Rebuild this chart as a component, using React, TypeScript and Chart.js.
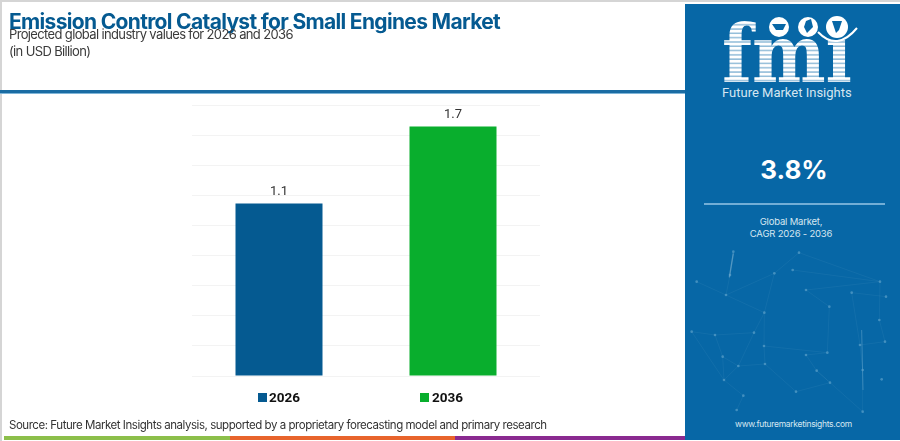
import { useEffect, useRef } from 'react';
import Chart from 'chart.js/auto';

const categories = ['2026', '2036'];
const series2026 = [1.145, null];
const series2036 = [null, 1.657];
const valueLabels = ['1.1', '1.7'];
const axisMax = 1.8;
const axisStep = 0.2;

const BLUE = '#055a91';
const GREEN = '#09ae2d';
const SIDEBAR = '#0767a6';
const FONT = 'Inter, "Noto Sans", sans-serif';

// value text above each bar
const barLabels = {
  id: 'barLabels',
  afterDatasetsDraw(chart: any) {
    const ctx = chart.ctx;
    ctx.save();
    ctx.font = '13px Roboto, sans-serif';
    ctx.fillStyle = '#333333';
    ctx.textAlign = 'center';
    ctx.textBaseline = 'bottom';
    chart.data.datasets.forEach((ds: any, i: number) => {
      chart.getDatasetMeta(i).data.forEach((bar: any, j: number) => {
        if (ds.data[j] == null) return;
        ctx.fillText(valueLabels[j], bar.x, bar.y - 5);
      });
    });
    ctx.restore();
  },
};

function text(left: number, top: number, size: number, color: string, extra: React.CSSProperties = {}): React.CSSProperties {
  return {
    position: 'absolute',
    left,
    top,
    fontSize: size,
    color,
    fontFamily: FONT,
    lineHeight: 1,
    whiteSpace: 'nowrap',
    ...extra,
  };
}

function centered(top: number, size: number, color: string, width: number, extra: React.CSSProperties = {}) {
  return text(686, top, size, color, { width, textAlign: 'center', ...extra });
}

function Logo() {
  return (
    <svg width={214} height={100} style={{ position: 'absolute', left: 686, top: 4 }}>
      <defs>
        <pattern id="stripes" width="4.3" height="4.3" patternUnits="userSpaceOnUse">
          <rect width="4.3" height="3.2" fill="#ffffff" />
          <rect y="3.2" width="4.3" height="1.1" fill="#8fbbd8" />
        </pattern>
      </defs>
      <text x="36" y="78" fontFamily="DejaVu Serif" fontWeight="bold" fontSize="80" fill="url(#stripes)" textLength="130" lengthAdjust="spacingAndGlyphs">fmı</text>
      <circle cx="93" cy="23" r="10" fill="#fff" />
      <circle cx="122" cy="23" r="10" fill="#fff" />
      <circle cx="151" cy="23" r="11" fill="#fff" />
      <path d="M86 20 h14 l-3 6 h-7 z" fill={SIDEBAR} />
      <path d="M120 17 l5 -2 l2 8 l-6 6 l-3 -6 z" fill={SIDEBAR} />
      <path d="M146 17 h10 l-3 9 l-3 3 z" fill={SIDEBAR} />
      <path d="M132 28 Q151 48 171 24" stroke="#ffffff" strokeWidth="2" fill="none" />
    </svg>
  );
}

function Network() {
  const pts = [[160, 35], [150, 105], [50, 125], [138, 165], [283, 100], [357, 38], [338, 90], [378, 150], [515, 158], [600, 125], [618, 170], [598, 240], [615, 305], [540, 315], [448, 200], [253, 218], [222, 278], [105, 285], [35, 275], [252, 318], [378, 345], [442, 338], [255, 372], [175, 378], [128, 350], [132, 420], [190, 467], [170, 510], [410, 392], [348, 455], [450, 428], [548, 390], [548, 515], [605, 418]];
  const links = [[0, 1], [1, 3], [2, 3], [3, 4], [4, 5], [5, 9], [6, 9], [4, 15], [3, 15], [15, 16], [16, 17], [17, 18], [17, 24], [24, 23], [23, 22], [22, 19], [19, 21], [19, 15], [16, 23], [20, 21], [20, 28], [28, 30], [30, 29], [29, 22], [28, 32], [32, 31], [31, 13], [13, 12], [12, 11], [11, 9], [14, 21], [7, 14], [7, 9], [8, 13], [23, 25], [25, 26], [26, 27], [25, 24], [18, 25], [8, 10]];
  return (
    <svg width={220} height={201} viewBox="0 0 660 603" style={{ position: 'absolute', left: 680, top: 240 }}>
      {links.map(([a, b], i) => (
        <line key={i} x1={pts[a][0]} y1={pts[a][1]} x2={pts[b][0]} y2={pts[b][1]} stroke="#3f8dbd" strokeWidth={1.5} opacity={0.4} />
      ))}
      {pts.map(([x, y], i) => (
        <circle key={i} cx={x} cy={y} r={4} fill="#5a9fc9" opacity={0.7} />
      ))}
      <line x1={160} y1={40} x2={148} y2={112} stroke="#6fa9cd" strokeWidth={4} opacity={0.7} />
      <line x1={545} y1={270} x2={549} y2={450} stroke="#5a9fc9" strokeWidth={3} opacity={0.6} />
    </svg>
  );
}

export default function App() {
  const chartRef = useRef<HTMLCanvasElement>(null);

  useEffect(() => {
    document.body.style.margin = '0';
    const myChart = new Chart(chartRef.current as any, {
      type: 'bar',
      data: {
        labels: categories,
        datasets: [
          { label: '2026', data: series2026, backgroundColor: BLUE },
          { label: '2036', data: series2036, backgroundColor: GREEN },
        ],
      } as any,
      options: {
        animation: false,
        responsive: false,
        layout: { padding: { left: 192, right: 360, top: 105, bottom: 57 } },
        datasets: { bar: { barPercentage: 0.5, categoryPercentage: 1 } },
        scales: {
          x: {
            stacked: true,
            ticks: { display: false },
            grid: { display: false },
            border: { display: false },
          },
          y: {
            stacked: true,
            min: 0,
            max: axisMax,
            ticks: { display: false, stepSize: axisStep },
            grid: { color: '#f3f3f3', lineWidth: 1, drawTicks: false },
            border: { display: false },
          },
        },
        plugins: {
          title: { display: false },
          tooltip: { enabled: false },
          legend: { display: false },
        },
      } as any,
      plugins: [barLabels],
    });
    return () => {
      myChart.destroy();
    };
  }, []);

  const legendFont: React.CSSProperties = { fontFamily: 'Roboto, sans-serif', fontWeight: 700 };

  return (
    <div style={{ position: 'relative', width: 900, height: 441, overflow: 'hidden', background: '#ffffff' }}>
      <div style={{ position: 'absolute', left: 0, top: 0, width: 900, height: 1.5, background: '#d5d5d5' }} />
      <div style={{ position: 'absolute', left: 0, top: 0, width: 1.5, height: 441, background: '#d5d5d5' }} />
      <canvas ref={chartRef} width={900} height={441} style={{ position: 'absolute', left: 0, top: 0 }} />

      <div style={text(9, 11, 21, BLUE, { fontWeight: 700, letterSpacing: -0.67 })}>Emission Control Catalyst for Small Engines Market</div>
      <div style={text(9, 28, 13, '#3a3a3a', { letterSpacing: -0.64 })}>Projected global industry values for 2026 and 2036</div>
      <div style={text(9, 45, 13, '#3a3a3a', { letterSpacing: -0.64 })}>(in USD Billion)</div>
      <div style={{ position: 'absolute', left: 0, top: 89.5, width: 686, height: 3.5, background: '#1a6ca3' }} />
      <div style={{ position: 'absolute', left: 0, top: 93, width: 686, height: 1, background: '#7fb5d8' }} />

      <div style={{ position: 'absolute', left: 258, top: 393, width: 8.5, height: 8.5, background: BLUE }} />
      <div style={text(269, 391, 13.5, '#111111', legendFont)}>{categories[0]}</div>
      <div style={{ position: 'absolute', left: 420, top: 393, width: 8.5, height: 8.5, background: GREEN }} />
      <div style={text(432, 391, 13.5, '#111111', legendFont)}>{categories[1]}</div>

      <div style={text(9, 420, 11.5, '#333333', { letterSpacing: -0.46 })}>Source: Future Market Insights analysis, supported by a proprietary forecasting model and primary research</div>
      <div style={{ position: 'absolute', left: 4, top: 435.5, width: 226, height: 4.5, background: '#8cbf4a' }} />
      <div style={{ position: 'absolute', left: 230, top: 435.5, width: 225, height: 4.5, background: '#e8642c' }} />
      <div style={{ position: 'absolute', left: 455, top: 435.5, width: 231, height: 4.5, background: '#8a2a90' }} />

      <div style={{ position: 'absolute', left: 685, top: 4, width: 215, height: 436, background: SIDEBAR }} />
      <Network />
      <Logo />
      <div style={text(722, 86, 13, '#d5e6f1', { fontFamily: 'Roboto, sans-serif' })}>Future Market Insights</div>
      <div style={centered(157, 26, '#ffffff', 216, { fontWeight: 700 })}>3.8%</div>
      <div style={{ position: 'absolute', left: 704, top: 203, width: 181, height: 2, background: '#72aed6' }} />
      <div style={centered(217, 9.5, '#d5e6f1', 210, { letterSpacing: -0.2 })}>Global Market,</div>
      <div style={centered(229, 9.5, '#d5e6f1', 210, { letterSpacing: -0.2 })}>CAGR 2026 - 2036</div>
      <div style={centered(420, 8.5, '#d5e6f1', 215, { letterSpacing: -0.3 })}>www.futuremarketinsights.com</div>
    </div>
  );
}
